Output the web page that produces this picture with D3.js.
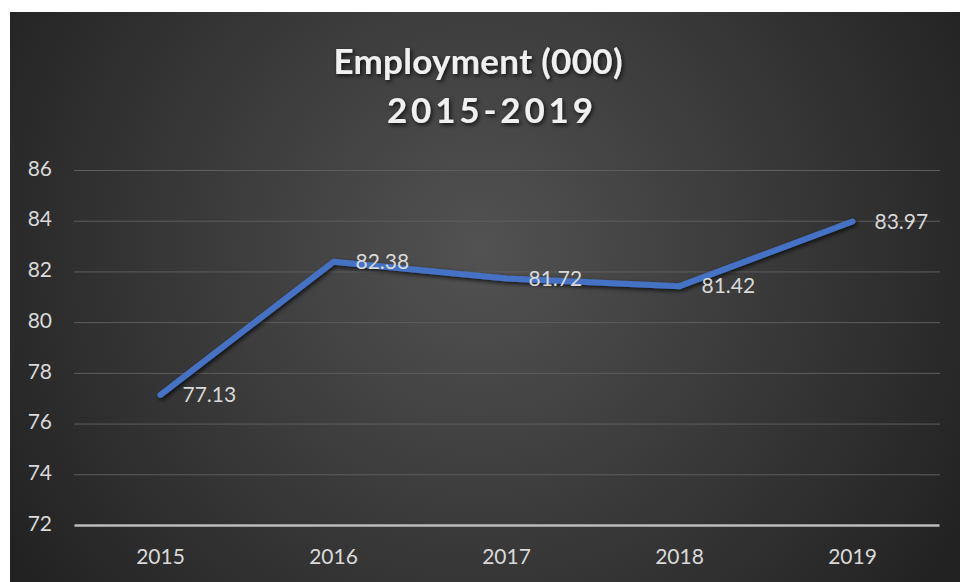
<!DOCTYPE html>
<html>
<head>
<meta charset="utf-8">
<script src="https://cdn.jsdelivr.net/npm/d3@7"></script>
<style>
  html, body { margin: 0; padding: 0; background: #ffffff; }
  #chart { width: 960px; height: 582px; }
</style>
</head>
<body>
<div id="chart"></div>
<script>
const years = ['2015', '2016', '2017', '2018', '2019'];
const employment = [77.13, 82.38, 81.72, 81.42, 83.97];
const y_ticks = [72, 74, 76, 78, 80, 82, 84, 86];
const title_lines = ['Employment (000)', '2015-2019'];

const width = 960;
const height = 582;
const margin = { top: 170, right: 20, bottom: 57, left: 74 };
const font = 'Lato, "Noto Sans", sans-serif';

const svg = d3.select('#chart')
  .append('svg')
  .attr('width', width)
  .attr('height', height);

const defs = svg.append('defs');

const bg_gr = defs.append('radialGradient')
  .attr('id', 'bg')
  .attr('gradientUnits', 'userSpaceOnUse')
  .attr('cx', 480).attr('cy', 250)
  .attr('r', 560);
bg_gr.append('stop').attr('offset', '0%').attr('stop-color', '#525252');
bg_gr.append('stop').attr('offset', '100%').attr('stop-color', '#222222');

const sh = defs.append('filter').attr('id', 'shadow')
  .attr('x', '-10%').attr('y', '-30%').attr('width', '120%').attr('height', '160%');
sh.append('feDropShadow')
  .attr('dx', 1.5).attr('dy', 2).attr('stdDeviation', 2)
  .attr('flood-color', '#000').attr('flood-opacity', 0.75);

// chart area, white edge left and top
svg.append('rect')
  .attr('x', 10).attr('y', 12)
  .attr('width', width - 10).attr('height', height - 12)
  .attr('fill', 'url(#bg)');

const x_sc = d3.scaleBand()
  .domain(years)
  .range([margin.left, width - margin.right - 1]);

const y_sc = d3.scaleLinear()
  .domain([72, 86])
  .range([height - margin.bottom, margin.top]);

// gridlines
svg.append('g')
  .selectAll('line')
  .data(y_ticks.filter(d => d !== 72))
  .enter()
  .append('line')
  .attr('x1', margin.left).attr('x2', width - margin.right)
  .attr('y1', d => y_sc(d) + 0.5).attr('y2', d => y_sc(d) + 0.5)
  .attr('stroke', '#5e5e5e')
  .attr('stroke-width', 1);

// y axis labels
const y_ax = svg.append('g')
  .attr('transform', `translate(${margin.left - 22},0)`)
  .call(d3.axisLeft(y_sc).tickValues(y_ticks).tickSize(0).tickPadding(0));
y_ax.select('.domain').remove();
y_ax.selectAll('text')
  .attr('fill', '#d9d9d9')
  .attr('dy', '0.25em')
  .style('font-family', font)
  .style('font-size', '21px');

// x axis
const x_ax = svg.append('g')
  .attr('transform', `translate(0,${y_sc(72)})`)
  .call(d3.axisBottom(x_sc).tickSize(0).tickPadding(24));
x_ax.select('.domain')
  .attr('stroke', '#bdbdbd')
  .attr('stroke-width', 2.5);
x_ax.selectAll('text')
  .attr('fill', '#d9d9d9')
  .style('font-family', font)
  .style('font-size', '21px');

// line
const points = years.map((y, i) => ({ year: y, value: employment[i] }));
const cx = d => x_sc(d.year) + x_sc.bandwidth() / 2;

const line = d3.line()
  .x(cx)
  .y(d => y_sc(d.value));

svg.append('path')
  .datum(points)
  .attr('d', line)
  .attr('fill', 'none')
  .attr('stroke', '#4472c4')
  .attr('stroke-width', 6)
  .attr('stroke-linejoin', 'round')
  .attr('stroke-linecap', 'round')
  .attr('filter', 'url(#shadow)');

// value labels
svg.append('g')
  .selectAll('text')
  .data(points)
  .enter()
  .append('text')
  .attr('x', d => cx(d) + 22)
  .attr('y', d => y_sc(d.value))
  .attr('dy', '0.35em')
  .attr('fill', '#d9d9d9')
  .style('font-family', font)
  .style('font-size', '21px')
  .text(d => d.value.toFixed(2));

// title
const ti_x = [478, 490];
const ti_len = [289, 206];
svg.append('g')
  .selectAll('text')
  .data(title_lines)
  .enter()
  .append('text')
  .attr('x', (d, i) => ti_x[i])
  .attr('y', (d, i) => 74 + i * 49)
  .attr('text-anchor', 'middle')
  .attr('textLength', (d, i) => ti_len[i])
  .attr('lengthAdjust', 'spacing')
  .attr('fill', '#f0f0f0')
  .attr('filter', 'url(#shadow)')
  .style('font-family', font)
  .style('font-size', '35px')
  .style('font-weight', 'bold')
  .text(d => d);
</script>
</body>
</html>
